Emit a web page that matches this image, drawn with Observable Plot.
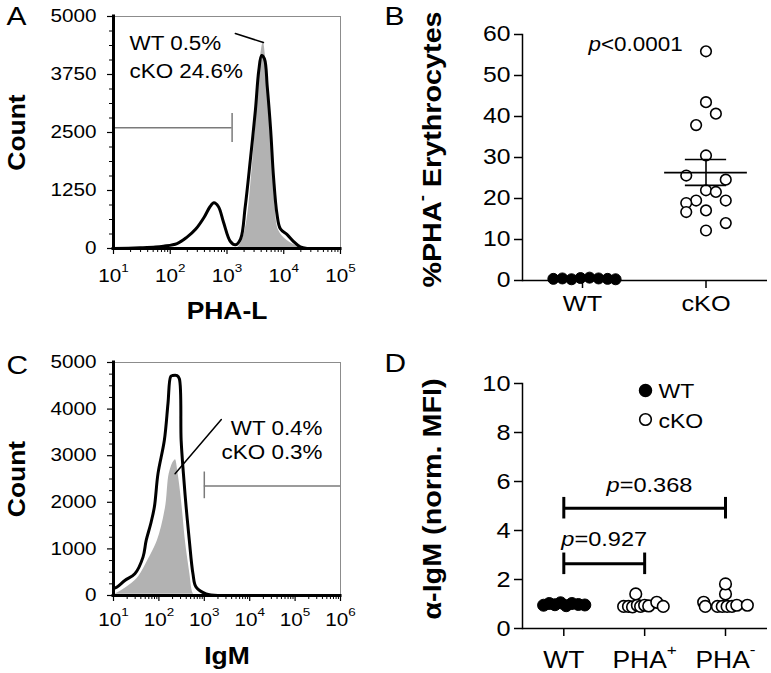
<!DOCTYPE html>
<html><head><meta charset="utf-8">
<script src="https://cdn.jsdelivr.net/npm/d3@7"></script>
<script src="https://cdn.jsdelivr.net/npm/@observablehq/plot@0.6"></script>
<style>
body{margin:0;background:#fff;}
#fig{position:relative;width:771px;height:673px;overflow:hidden;background:#fff;}
#fig svg{position:absolute;overflow:visible;}
#fig text{white-space:pre;}
</style></head><body><div id="fig"></div>
<script>
// ---------- Panel A : PHA-L histogram (log10 intensity, count) ----------
const aCkoLog   = [1.0,1.47,1.74,1.88,2.12,2.29,2.45,2.6,2.7,2.77,2.85,2.94,3.06,3.15,3.24,3.32,3.41,3.5,3.56,3.61,3.66,3.71,3.77,3.82,3.88,3.94,4.06,4.18,4.29,4.41];
const aCkoCount = [0,15,30,50,107,240,420,680,900,985,900,560,150,80,209,890,1897,2974,3836,4159,4088,3477,2543,1537,747,424,300,143,36,0];
const aWtLog    = [3.18,3.26,3.35,3.44,3.53,3.59,3.64,3.68,3.73,3.8,3.85,3.91,4.06,4.24,4.4];
const aWtCount  = [0,150,603,1681,3118,4123,4447,4123,3118,1897,890,388,172,50,0];
const aYTicks   = [0,1250,2500,3750,5000];
const aDecades  = [1,2,3,4,5];
const aGateY = [2600], aGateX = [10,1230], aGateTick = [2285,2910];
const aLeaderX = [1403,4385], aLeaderY = [4634,4440];
const aNote = ["WT 0.5%\ncKO 24.6%"];

// ---------- Panel B : %PHA- erythrocytes ----------
const bGroups   = ["WT","cKO"];
const bWtOffset = [-0.236,-0.163,-0.089,-0.016,0.057,0.130,0.203,0.268];
const bWtValue  = [0.4,0.5,0.3,0.6,0.7,0.5,0.4,0.3];
const bKoOffset = [0,0,0.08,-0.08,0,-0.16,0.16,0,0.08,-0.08,0.16,-0.16,-0.16,0,0.16,0];
const bKoValue  = [55.9,43.5,40.7,37.9,30.5,25.6,24.6,22.0,21.6,19.5,19.5,18.9,16.7,17.1,14.0,12.2];
const bMean = [26.3], bSem = [23.2,29.5];
const bYTicks = [0,10,20,30,40,50,60];

// ---------- Panel C : IgM histogram ----------
const cCkoLog   = [1.0,1.07,1.25,1.47,1.65,1.72,1.82,1.9,1.98,2.12,2.2,2.26,2.3,2.4,2.45,2.49,2.54,2.6,2.67,2.75,2.82,3.04,3.3];
const cCkoCount = [150,178,322,466,824,1182,1540,1898,2615,3330,4120,4700,4720,4720,4650,3330,2615,1898,1182,466,178,35,0];
const cWtLog    = [1.0,1.2,1.5,1.75,1.94,2.12,2.2,2.31,2.38,2.45,2.54,2.61,2.71,2.78,2.85];
const cWtCount  = [40,150,380,800,1182,1898,2615,2900,2937,2615,1898,1182,466,50,0];
const cYTicks   = [0,1000,2000,3000,4000,5000];
const cDecades  = [1,2,3,4,5,6];
const cGateY = [2350], cGateX = [1000,1e6], cGateTick = [2077,2650];
const cLeaderX = [2371,227], cLeaderY = [3775,2615];
const cNote = ["WT 0.4%\ncKO 0.3%"];

// ---------- Panel D : anti-IgM normalized MFI ----------
const dGroups    = ["WT","PHA^{+}","PHA^{-}"];
const dWtOffset  = [-0.25,-0.18,-0.11,-0.04,0.03,0.10,0.18,0.26];
const dWtValue   = [0.95,1.02,0.97,1.05,0.93,1.02,0.98,0.96];
const dPosOffset = [-0.26,-0.2,-0.15,-0.09,-0.05,0,0.05,0.15,0.23,-0.11];
const dPosValue  = [0.9,0.9,0.88,0.95,0.9,0.95,0.92,1.07,0.9,1.41];
const dNegOffset = [-0.27,-0.25,-0.1,-0.04,0.02,0.08,0.14,0.27,0,0];
const dNegValue  = [1.07,0.9,0.9,0.9,0.9,0.9,0.95,0.95,1.41,1.82];
const dYTicks = [0,2,4,6,8,10];
const dBracketFrom = [0,0], dBracketTo = [1,2], dBracketY = [2.64,4.91];
const dPText = ["*p*=0.927","*p*=0.368"], dPTextX = [0.5,1.06], dPTextY = [3.38,5.57];

// ---------- helpers ----------
const FONT = '"Liberation Sans", Arial, Helvetica, sans-serif';
const STRETCH = 1.15;
const ns = "http://www.w3.org/2000/svg";
const sup = e => `10^{${e}}`;
const logMinor = (lo, hi) => d3.range(lo, hi).flatMap(e => d3.range(2, 10).map(m => m * 10 ** e));
const hist = (logs, counts) => logs.map((l, i) => ({x: 10 ** l, count: counts[i]}));
const baseStyle = {fontFamily: FONT, fontSize: "18px", color: "black", background: "transparent", overflow: "visible"};

function richify(svg) {
  for (const t of svg.querySelectorAll("text")) {
    const targets = t.querySelector("tspan") ? [...t.querySelectorAll("tspan")] : [t];
    for (const el of targets) {
      const s = el.textContent;
      if (!/\^\{|\*/.test(s)) continue;
      el.textContent = "";
      const re = /\^\{([^}]*)\}|\*([^*]*)\*|([^^*]+)/g;
      let m, raised = false;
      while ((m = re.exec(s))) {
        const ts = document.createElementNS(ns, "tspan");
        if (m[1] !== undefined) {
          ts.textContent = m[1];
          ts.setAttribute("font-size", "0.65em");
          ts.setAttribute("dy", "-0.85em");
          raised = true;
        } else {
          ts.textContent = m[2] !== undefined ? m[2] : m[3];
          if (m[2] !== undefined) ts.setAttribute("font-style", "italic");
          if (raised) { ts.setAttribute("dy", "0.5525em"); raised = false; }
        }
        el.appendChild(ts);
      }
    }
  }
}
function stretch(svg) {
  for (const t of svg.querySelectorAll("text")) {
    const tr = t.getAttribute("transform");
    if (tr) t.setAttribute("transform", tr + ` scale(${STRETCH},1)`);
  }
}
function place(svg, left, top) {
  richify(svg); stretch(svg);
  svg.style.left = left + "px"; svg.style.top = top + "px";
  document.getElementById("fig").appendChild(svg);
}

function histPanel({letter, xLabel, decades, yTicks, yMinorStep, cko, wt, wtStroke, gateY, gateX, gateTick, gateTickX, leaderX, leaderY, note, noteOpts, height, mTop, mBottom, xPad, xLabelDy, letterDy}) {
  const yMinor = d3.range(0, yTicks[yTicks.length - 1] + 1, yMinorStep).filter(v => !yTicks.includes(v));
  const lo = decades[0], hi = decades[decades.length - 1];
  return Plot.plot({
    width: 385, height, marginLeft: 113, marginRight: 45, marginTop: mTop, marginBottom: mBottom,
    style: baseStyle,
    x: {type: "log", domain: [10 ** lo, 10 ** hi]},
    y: {domain: [0, yTicks[yTicks.length - 1]]},
    marks: [
      Plot.frame({stroke: "#8c8c8c", strokeWidth: 1}),
      Plot.areaY(wt, {x: "x", y: "count", fill: "#b2b2b2", stroke: wtStroke, strokeWidth: 2.5, curve: "catmull-rom"}),
      Plot.line(cko, {x: "x", y: "count", stroke: "black", strokeWidth: 3, curve: "catmull-rom"}),
      Plot.ruleY(gateY, {x1: gateX[0], x2: gateX[1], stroke: "#7a7a7a", strokeWidth: 1.5}),
      Plot.ruleX([gateTickX], {y1: gateTick[0], y2: gateTick[1], stroke: "#7a7a7a", strokeWidth: 1.5}),
      Plot.line(leaderX.map((x, i) => ({x, y: leaderY[i]})), {x: "x", y: "y", stroke: "black", strokeWidth: 1.5}),
      Plot.ruleX([10 ** lo], {stroke: "black", strokeWidth: 3, strokeLinecap: "square"}),
      Plot.ruleY([0], {stroke: "black", strokeWidth: 3, strokeLinecap: "square"}),
      Plot.axisY(yTicks, {tickSize: 6, tickPadding: 11, fontSize: 18, tickFormat: d => String(d), label: null, strokeWidth: 1.2}),
      Plot.axisY(yMinor, {tickSize: 4, fill: "none", label: null, strokeWidth: 1}),
      Plot.axisX(decades.map(e => 10 ** e), {tickSize: 6, tickPadding: xPad, fontSize: 18, tickFormat: d => sup(Math.round(Math.log10(d))), label: null, strokeWidth: 1.2}),
      Plot.axisX(logMinor(lo, hi), {tickSize: 4, fill: "none", label: null, strokeWidth: 1}),
      Plot.text(note, {frameAnchor: noteOpts.anchor, textAnchor: noteOpts.textAnchor, lineAnchor: "top", dx: noteOpts.dx, dy: noteOpts.dy, fontSize: 19.5, lineHeight: noteOpts.lineHeight}),
      Plot.text(["Count"], {frameAnchor: "left", rotate: -90, dx: -96, fontSize: 23, fontWeight: "bold", textAnchor: "middle", lineAnchor: "middle"}),
      Plot.text([xLabel], {frameAnchor: "bottom", dy: xLabelDy, fontSize: 23, fontWeight: "bold", textAnchor: "middle", lineAnchor: "bottom"}),
      Plot.text([letter], {frameAnchor: "top-left", dx: -107, dy: letterDy, fontSize: 26, textAnchor: "start", lineAnchor: "top"})
    ]
  });
}

// Panel A
place(histPanel({
  letter: "A", xLabel: "PHA-L", decades: aDecades, yTicks: aYTicks, yMinorStep: 312.5,
  cko: hist(aCkoLog, aCkoCount), wt: hist(aWtLog, aWtCount), wtStroke: "none",
  gateY: aGateY, gateX: aGateX, gateTick: aGateTick, gateTickX: aGateX[1], leaderX: aLeaderX, leaderY: aLeaderY,
  note: aNote, noteOpts: {anchor: "top-left", textAnchor: "start", dx: 16, dy: 13, lineHeight: 1.46},
  height: 330, mTop: 16, mBottom: 82, xPad: 15, xLabelDy: 70, letterDy: -10
}), 0, 0);

// Panel C
place(histPanel({
  letter: "C", xLabel: "IgM", decades: cDecades, yTicks: cYTicks, yMinorStep: 250,
  cko: hist(cCkoLog, cCkoCount), wt: hist(cWtLog, cWtCount), wtStroke: "white",
  gateY: cGateY, gateX: cGateX, gateTick: cGateTick, gateTickX: cGateX[0], leaderX: cLeaderX, leaderY: cLeaderY,
  note: cNote, noteOpts: {anchor: "top-right", textAnchor: "end", dx: -18, dy: 55, lineHeight: 1.25},
  height: 343, mTop: 32, mBottom: 78, xPad: 12, xLabelDy: 68, letterDy: -7
}), 0, 330);

// Panel B
{
  const wt = bWtValue.map((v, i) => ({x: 0 + bWtOffset[i], y: v}));
  const ko = bKoValue.map((v, i) => ({x: 1 + bKoOffset[i], y: v}));
  const svg = Plot.plot({
    width: 386, height: 330, marginLeft: 137, marginRight: 4, marginTop: 34, marginBottom: 50,
    style: baseStyle,
    x: {domain: [0, 1], range: [197, 320.5]},
    y: {domain: [0, 60]},
    marks: [
      Plot.frame({anchor: "left", strokeWidth: 1.5}),
      Plot.ruleY([0], {strokeWidth: 1.5}),
      Plot.axisY(bYTicks, {tickSize: 8, tickPadding: 4, fontSize: 21.5, label: null, strokeWidth: 1.5}),
      Plot.axisX([0, 1], {tickSize: 8, tickPadding: 7, fontSize: 22, tickFormat: i => bGroups[i], label: null, strokeWidth: 1.5}),
      Plot.dot(wt, {x: "x", y: "y", r: 5.5, fill: "black", stroke: "black", strokeWidth: 1}),
      Plot.dot(ko, {x: "x", y: "y", r: 5.3, fill: "white", stroke: "black", strokeWidth: 1.6}),
      Plot.ruleY(bMean, {x1: 1 - 0.335, x2: 1 + 0.335, strokeWidth: 1.6}),
      Plot.ruleY(bSem, {x1: 1 - 0.167, x2: 1 + 0.167, strokeWidth: 1.6}),
      Plot.ruleX([1], {y1: bSem[0], y2: bSem[1], strokeWidth: 1.6}),
      Plot.text(["*p*<0.0001"], {frameAnchor: "top-left", dx: 66, dy: 16, fontSize: 19.5, textAnchor: "start", lineAnchor: "bottom"}),
      Plot.text(["%PHA^{-} Erythrocytes"], {frameAnchor: "left", rotate: -90, dx: -90, dy: -8, fontSize: 25, fontWeight: "bold", textAnchor: "middle", lineAnchor: "middle"}),
      Plot.text(["B"], {frameAnchor: "top-left", dx: -138, dy: -28, fontSize: 26, textAnchor: "start", lineAnchor: "top"})
    ]
  });
  place(svg, 385, 0);
}

// Panel D
{
  const wt = dWtValue.map((v, i) => ({x: 0 + dWtOffset[i], y: v}));
  const pos = dPosValue.map((v, i) => ({x: 1 + dPosOffset[i], y: v}));
  const neg = dNegValue.map((v, i) => ({x: 2 + dNegOffset[i], y: v}));
  const brackets = dBracketY.map((y, i) => ({x1: dBracketFrom[i], x2: dBracketTo[i], y}));
  const caps = brackets.flatMap(b => [b.x1, b.x2].map(x => ({x, y1: b.y - 0.44, y2: b.y + 0.44})));
  const ptext = dPText.map((t, i) => ({t, x: dPTextX[i], y: dPTextY[i]}));
  const svg = Plot.plot({
    width: 386, height: 343, marginLeft: 137, marginRight: 4, marginTop: 53, marginBottom: 45,
    style: baseStyle,
    x: {domain: [0, 2], range: [178.3, 340]},
    y: {domain: [0, 10]},
    marks: [
      Plot.frame({anchor: "left", strokeWidth: 1.5}),
      Plot.ruleY([0], {strokeWidth: 1.5}),
      Plot.axisY(dYTicks, {tickSize: 8, tickPadding: 4, fontSize: 22, label: null, strokeWidth: 1.5}),
      Plot.axisX([0, 1, 2], {tickSize: 8, tickPadding: 15, fontSize: 23, tickFormat: i => dGroups[i], label: null, strokeWidth: 1.5}),
      Plot.ruleY(brackets, {x1: "x1", x2: "x2", y: "y", strokeWidth: 3}),
      Plot.ruleX(caps, {x: "x", y1: "y1", y2: "y2", strokeWidth: 3}),
      Plot.text(ptext, {x: "x", y: "y", text: "t", fontSize: 20.5, textAnchor: "middle", lineAnchor: "bottom"}),
      Plot.dot(wt, {x: "x", y: "y", r: 6, fill: "black", stroke: "black", strokeWidth: 1}),
      Plot.dot(pos, {x: "x", y: "y", r: 5.8, fill: "white", stroke: "black", strokeWidth: 1.6}),
      Plot.dot(neg, {x: "x", y: "y", r: 5.8, fill: "white", stroke: "black", strokeWidth: 1.6}),
      Plot.dot([0], {frameAnchor: "top-left", dx: 123, dy: 7, r: 6, fill: "black", stroke: "black"}),
      Plot.dot([0], {frameAnchor: "top-left", dx: 123, dy: 36, r: 5.8, fill: "white", stroke: "black", strokeWidth: 1.6}),
      Plot.text(["WT"], {frameAnchor: "top-left", dx: 136, dy: 14, fontSize: 20, textAnchor: "start", lineAnchor: "bottom"}),
      Plot.text(["cKO"], {frameAnchor: "top-left", dx: 136, dy: 44, fontSize: 20, textAnchor: "start", lineAnchor: "bottom"}),
      Plot.text(["α-IgM (norm. MFI)"], {frameAnchor: "left", rotate: -90, dx: -90, dy: -7, fontSize: 25, fontWeight: "bold", textAnchor: "middle", lineAnchor: "middle"}),
      Plot.text(["D"], {frameAnchor: "top-left", dx: -138, dy: -30, fontSize: 26, textAnchor: "start", lineAnchor: "top"})
    ]
  });
  place(svg, 385, 330);
}
</script></body></html>
